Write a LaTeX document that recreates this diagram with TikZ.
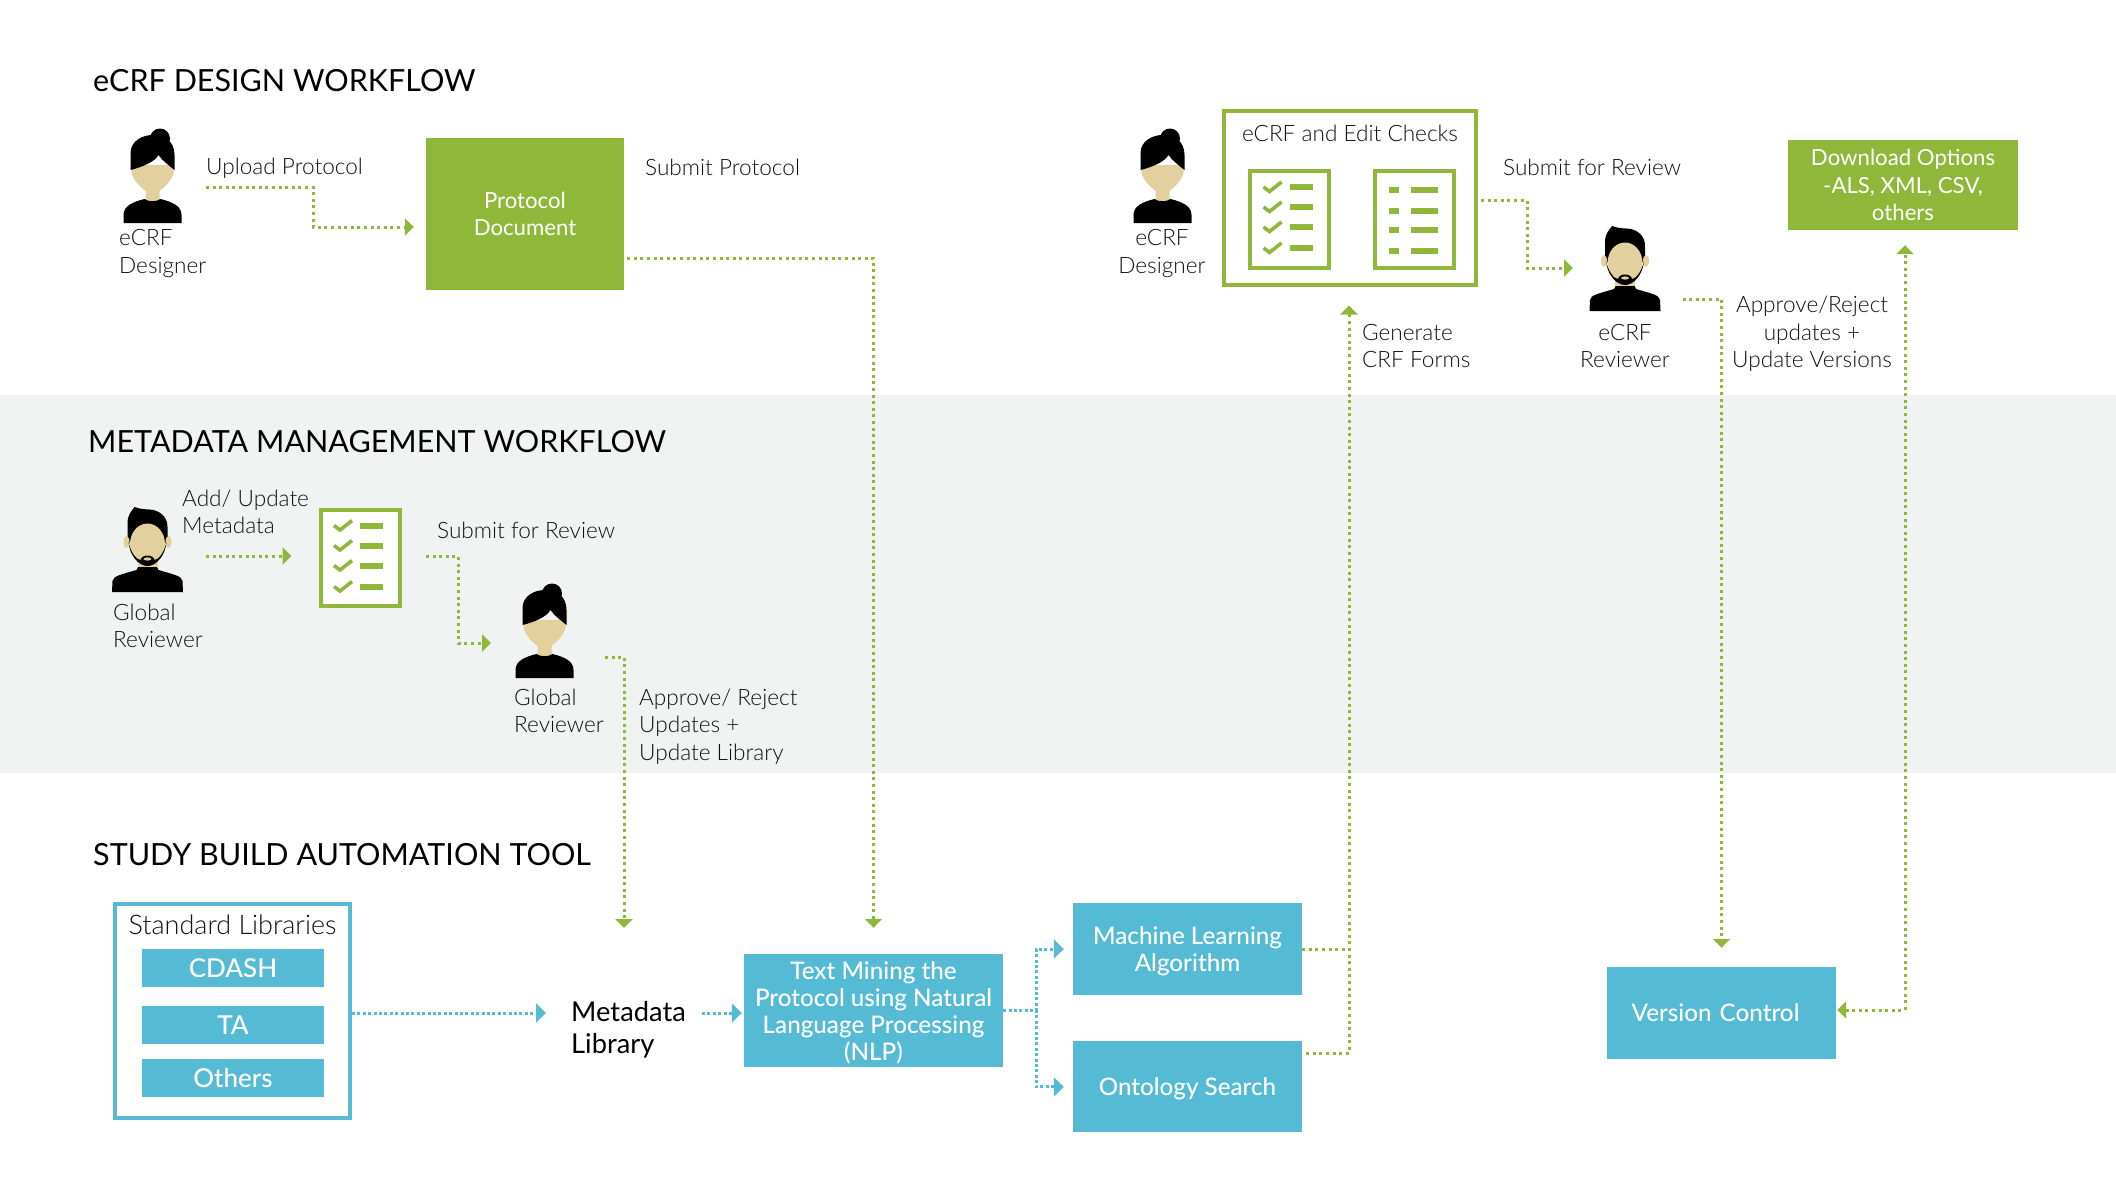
\documentclass[tikz,border=0pt]{standalone}
\usepackage{fontspec}
\setmainfont{Lato}[UprightFont={* Light}]
\newfontfamily\latoreg{Lato}
\newfontfamily\latomed{Lato}[UprightFont={* Medium}]
\usetikzlibrary{positioning,arrows.meta}

\definecolor{ecrfgreen}{HTML}{8FB83A}
\definecolor{ecrfblue}{HTML}{55BBD5}
\definecolor{bandgrey}{HTML}{F1F3F3}
\definecolor{skintone}{HTML}{E3D09F}
\definecolor{inktext}{HTML}{111111}

\newcommand{\lowerline}{\rule{0pt}{23pt}}

\tikzset{
    woman/.pic={
        \fill[black] (7.5,9.5) circle (10);
        \fill[skintone] (-21,36) -- (-21,44) .. controls (-19,52) and (-12,58) .. (-7,62) -- (-7,72) -- (7,72) -- (7,62) .. controls (12,58) and (19,52) .. (21,44) -- (21,36) -- cycle;
        \fill[black] (-22,41) -- (-22,24) .. controls (-22,12) and (-10,6) .. (0,6) .. controls (12,6) and (22,12) .. (22,26) -- (22,41) .. controls (16,36) and (10,32) .. (6,26) .. controls (2,33) and (-10,38) .. (-22,41) -- cycle;
        \fill[black] (-29,94) -- (-29,86) .. controls (-29,77) and (-20,73) .. (-8,70) .. controls (-4,73) and (4,73) .. (8,70) .. controls (20,73) and (29,77) .. (29,86) -- (29,94) -- cycle;
    },
    man/.pic={
        \fill[black] (-20,36) -- (-20,16) .. controls (-20,8) and (-16,4) .. (-13,0) .. controls (-6,3) and (2,2) .. (6,3) .. controls (14,5) and (20,11) .. (20,20) -- (20,36) -- cycle;
        \fill[skintone] (-21,35) ellipse (3 and 6);
        \fill[skintone] (21,35) ellipse (3 and 6);
        \fill[skintone] (0,37) ellipse (17.5 and 20.5);
        \fill[black] (-35.5,85) -- (-35,74) .. controls (-34,69) and (-28,68) .. (-11,63) -- (-9,59) -- (9,59) -- (11,63) .. controls (28,68) and (34,69) .. (35,74) -- (35.5,85) -- cycle;
        \fill[skintone] (-10,54) rectangle (10,60);
        \fill[black] (-19,35) .. controls (-18,48) and (-9,59) .. (0,59) .. controls (9,59) and (18,48) .. (19,35) .. controls (17,45) and (11,53) .. (7,53) .. controls (6,47) and (-6,47) .. (-7,53) .. controls (-11,53) and (-17,45) .. (-19,35) -- cycle;
        \fill[skintone] (0,52) ellipse (4 and 1.6);
    },
    checkrows/.pic={
        \foreach \rowy in {-32,-12,8,29} {
            \draw[ecrfgreen, line width=3.6pt] (-26,\rowy) -- (-20,\rowy+4.5) -- (-8,\rowy-5);
            \fill[ecrfgreen] (0,\rowy-3) rectangle (23,\rowy+3);
        }
    },
    listrows/.pic={
        \foreach \rowy in {-29,-8,11,32} {
            \fill[ecrfgreen] (-25.5,\rowy-3) rectangle (-15.5,\rowy+3);
            \fill[ecrfgreen] (-3,\rowy-3) rectangle (24,\rowy+3);
        }
    }
}

\begin{document}
\begin{tikzpicture}[
    x=1pt, y=-1pt,
    txt/.style={font=\fontsize{22.6}{27.3}\selectfont, text=inktext, inner sep=0pt, align=left},
    ctxt/.style={txt, align=center},
    heading/.style={font=\latoreg\fontsize{30.5}{32}\selectfont, text=black, inner sep=0pt, anchor=west},
    greenbox/.style={fill=ecrfgreen, text=white, inner sep=0pt, align=center, font=\latoreg\fontsize{22.2}{27.3}\selectfont},
    bluebox/.style={fill=ecrfblue, text=white, inner sep=0pt, align=center, font=\latomed\fontsize{24.2}{27}\selectfont},
    frame/.style={draw=#1, line width=4pt, fill=white, inner sep=0pt},
    flowgreen/.style={draw=ecrfgreen, line width=3pt, dash pattern=on 3pt off 3.6pt, -{Triangle[length=9pt,width=17pt]}},
    flowblue/.style={draw=ecrfblue, line width=3pt, dash pattern=on 3pt off 2.4pt, -{Triangle[length=10pt,width=19pt]}}
]
    \useasboundingbox (0,0) rectangle (2116,1184);
    \fill[bandgrey] (0,395) rectangle (2116,772.5);

    \node[heading] (titledesign) at (93,80.3) {eCRF DESIGN WORKFLOW};
    \node[heading] (titlemeta) at (88,441.3) {METADATA MANAGEMENT WORKFLOW};
    \node[heading] (titlestudy) at (93,854.3) {STUDY BUILD AUTOMATION TOOL};

    \pic at (152.5,129) {woman};
    \pic at (1162.5,129) {woman};
    \pic at (544.5,584) {woman};
    \pic at (147.5,507) {man};
    \pic at (1625,226) {man};

    \node[txt, anchor=west] (designerA) at (119,253.5) {eCRF\\Designer};
    \node[ctxt] (designerB) at (1162,253.5) {eCRF\\Designer};
    \node[ctxt] (reviewerA) at (1625,346) {eCRF\\Reviewer};
    \node[txt, anchor=west] (globalA) at (113,626) {Global\\Reviewer};
    \node[txt, anchor=west] (globalB) at (514,711) {Global\\Reviewer};

    \node[greenbox, minimum width=198pt, minimum height=152pt] (protodoc) at (525,214) {Protocol\\Document};
    \node[greenbox, minimum width=230pt, minimum height=90pt] (download) at (1903,185) {Download Options\\-ALS, XML, CSV,\\others};

    \node[frame=ecrfgreen, minimum width=252pt, minimum height=174pt] (ecrf) at (1350,197.5) {};
    \node[txt] (ecrftitle) at (1350,133) {eCRF and Edit Checks};
    \node[frame=ecrfgreen, minimum width=79pt, minimum height=97pt] (checksA) at (1289.5,219) {};
    \pic at (1289.5,219) {checkrows};
    \node[frame=ecrfgreen, minimum width=79pt, minimum height=97pt] (listA) at (1414,219) {};
    \pic at (1414,219) {listrows};
    \node[frame=ecrfgreen, minimum width=79pt, minimum height=96pt] (checksB) at (360,557.5) {};
    \pic at (360,557.5) {checkrows};

    \node[txt, anchor=west] (uploadlabel) at (206,168) {Upload Protocol};
    \node[txt, anchor=west] (submitlabelA) at (645,167) {Submit Protocol};
    \node[txt, anchor=west] (submitlabelB) at (1503,167) {Submit for Review};
    \node[txt, anchor=west] (generatelabel) at (1362,346) {Generate\\CRF Forms};
    \node[ctxt] (versionlabel) at (1812,334) {Approve/Reject\\updates +\\Update Versions};
    \node[txt, anchor=west] (addlabel) at (182,512) {Add/ Update\\Metadata};
    \node[txt, anchor=west] (submitlabelC) at (437,530) {Submit for Review};
    \node[txt, anchor=west] (approvelabel) at (639,726.5) {Approve/ Reject\\Updates +\\Update Library};

    \node[frame=ecrfblue, minimum width=235pt, minimum height=214pt] (stdlib) at (232.5,1011) {};
    \node[txt, font=\fontsize{27}{30}\selectfont] (stdtitle) at (232.5,925) {Standard Libraries};
    \node[bluebox, minimum width=182pt, minimum height=38pt, font=\latomed\fontsize{26}{30}\selectfont] (cdash) at (233,968) {CDASH};
    \node[bluebox, minimum width=182pt, minimum height=38pt, font=\latomed\fontsize{26}{30}\selectfont, below = 19pt of cdash] (ta) {TA};
    \node[bluebox, minimum width=182pt, minimum height=38pt, font=\latomed\fontsize{26}{30}\selectfont, below = 14pt of ta] (others) {Others};

    \node[font=\latoreg\fontsize{27.3}{32}\selectfont, text=black, inner sep=0pt, align=left, anchor=west] (metalib) at (571,1029.5) {Metadata\\Library};
    \node[bluebox, minimum width=259pt, minimum height=113pt] (nlp) at (873.5,1010.5) {\lowerline Text Mining the\\Protocol using Natural\\Language Processing\\(NLP)};
    \node[bluebox, minimum width=229pt, minimum height=92pt] (mlalgo) at (1187.5,949) {\lowerline Machine Learning\\Algorithm};
    \node[bluebox, minimum width=229pt, minimum height=91pt, below = 46pt of mlalgo] (ontology) {\rule{0pt}{22pt}Ontology Search};
    \node[bluebox, minimum width=229pt, minimum height=92pt, text width=219pt, align=left] (version) at (1721.5,1013) {\hspace*{19.6pt}\raisebox{1pt}{Version Control}};

    \coordinate (uploadout) at (206,187);
    \coordinate (addout) at (206,556);
    \coordinate (reviewout) at (426,556);
    \coordinate (reviewin) at (491,643);
    \coordinate (globalout) at (605,657);
    \coordinate (libin) at (624,928);
    \coordinate (ecrfreview) at (1573,268);
    \coordinate (ecrfout) at (1682.5,299);

    \draw[flowgreen, shorten >=12pt] (uploadout) -- ++(107,0) |- ([yshift=-13pt]protodoc.west);
    \draw[flowgreen, shorten >=26pt] ([xshift=3pt,yshift=-44pt]protodoc.east) -| (nlp.north);
    \draw[flowgreen, shorten >=27pt] (addout) -- (addout -| checksB.west);
    \draw[flowgreen] (reviewout) -- ++(32,0) |- (reviewin);
    \draw[flowgreen] (globalout) -| (libin);
    \draw[flowgreen] ([yshift=-3pt,xshift=3pt]ecrf.east) -- ++(46,0) |- (ecrfreview);
    \draw[flowgreen, shorten >=19pt] (ecrfout) -| (version.north);
    \draw[flowgreen, -] (mlalgo.east) -- (mlalgo.east -| ecrf.south);
    \draw[flowgreen, shorten <=4pt, shorten >=19pt] ([yshift=33.5pt]ontology.east) -| ([xshift=-1pt]ecrf.south);
    \draw[flowgreen, {Triangle[length=9pt,width=17pt]}-{Triangle[length=9pt,width=17pt]}, shorten <=1pt, shorten >=15pt] ([yshift=3pt]version.east) -| ([xshift=2pt]download.south);

    \draw[flowblue, shorten >=25pt] ([yshift=-2pt]stdlib.east) -- ([yshift=-2pt]stdlib.east -| metalib.west);
    \draw[flowblue, shorten <=16pt, shorten >=2pt] ([yshift=-2.5pt]metalib.east |- nlp.west) -- ([yshift=-2.5pt]nlp.west);
    \draw[flowblue, shorten >=9pt] (nlp.east) -- ++(33,0) |- (mlalgo.west);
    \draw[flowblue, shorten >=9pt] (nlp.east) -- ++(33,0) |- (ontology.west);
\end{tikzpicture}
\end{document}
